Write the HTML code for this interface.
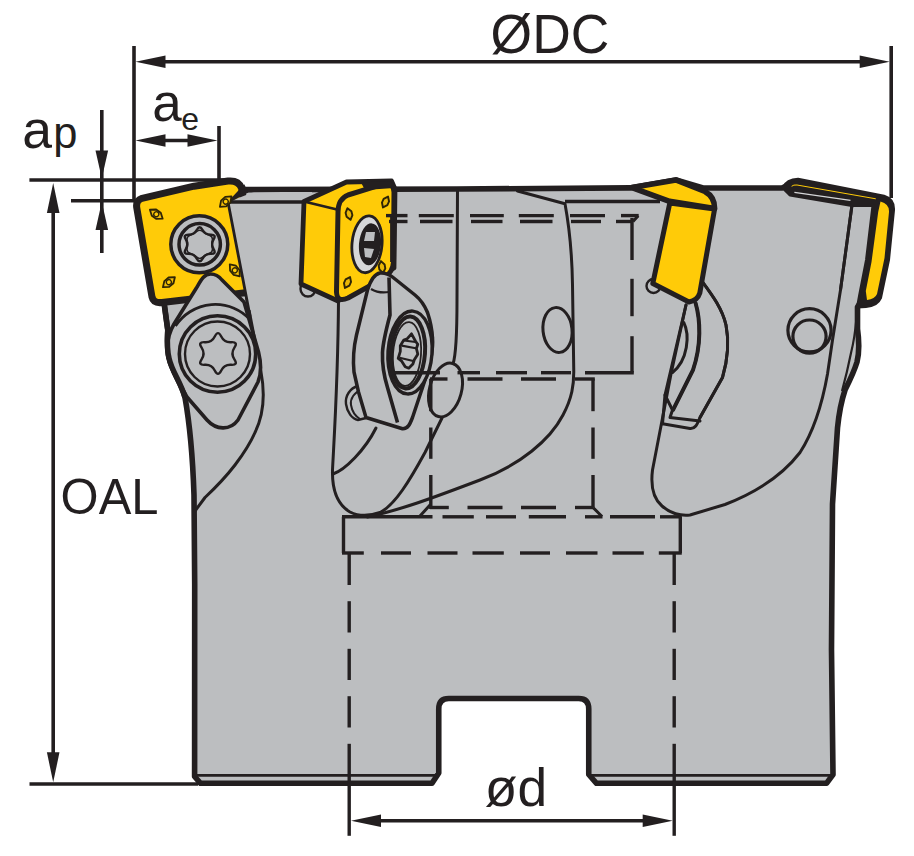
<!DOCTYPE html>
<html><head><meta charset="utf-8"><title>Milling cutter dimensions</title>
<style>html,body{margin:0;padding:0;background:#fff}svg{display:block}</style></head>
<body><svg width="914" height="856" viewBox="0 0 914 856">
<rect width="914" height="856" fill="#fff"/>
<path d="M 150,200 L 246,189.6 L 457,189 L 630,187.9 L 676,180 L 703,188 L 782,188 L 795,182 L 880,199 L 872,262 L 862,300 L 857.5,307 L 857.5,329 C 859,340 859.5,352 857,362 C 854,372 848,384 845,390 C 840,405 838.5,418 837.5,428 L 832.5,504 L 831.5,650 L 833,774.5 L 826.5,783.3 L 596.5,783.3 L 588.75,774.5 L 588.75,709 Q 588.75,698.5 578.75,698.5 L 448.75,698.5 Q 438.75,698.5 438.75,709 L 438.75,773 L 432,783.3 L 200.5,783.3 L 194.6,776.5 L 194.7,584 L 194,495 C 192.5,450 189,420 185,397.5 C 181,382 172,372 169,358 C 166.5,348 167.5,338 167.75,330 L 164,302.5 Z" fill="#bcbec0" stroke="#231f20" stroke-width="5.6" stroke-linejoin="round"/>
<path d="M195,775.4 L438,775.4 M589,775.4 L833,775.4" stroke="#231f20" stroke-width="2.6" fill="none"/>
<path d="M856.5,318 C855,335 853,345 851,353 C848,368 845,380 842,391" stroke="#231f20" stroke-width="2.2" fill="none"/>
<path d="M 228,202 L 261,372 C 266,398 262,418 255,432.5 C 249,446 241,457 235,465 C 225,478 213,490 205,497.5 L 195,511" fill="none" stroke="#231f20" stroke-width="3" stroke-linecap="round" stroke-linejoin="round"/>
<path d="M 457.5,190 L 457,300 C 457,340 456,355 453,364" fill="none" stroke="#231f20" stroke-width="3" stroke-linecap="round" stroke-linejoin="round"/>
<path d="M 338.5,300 C 338,380 334,440 332.5,470 C 332,490 338,505 350,512 C 360,517 370,516 380,512.5 C 395,505 410,480 425,452.5 L 442,418" fill="none" stroke="#231f20" stroke-width="3" stroke-linecap="round" stroke-linejoin="round"/>
<path d="M 333,474 C 345,470 365,450 376,428" fill="none" stroke="#231f20" stroke-width="3" stroke-linecap="round" stroke-linejoin="round"/>
<path d="M 367.5,517 C 400,510 430,499 480,480 C 520,465 550,440 563,415 C 572,398 574,385 573.75,370 L 572.5,285 C 572,250 568,220 565,203.75 L 517.5,191" fill="none" stroke="#231f20" stroke-width="3" stroke-linecap="round" stroke-linejoin="round"/>
<path d="M 420,516 L 430,505" fill="none" stroke="#231f20" stroke-width="3" stroke-linecap="round" stroke-linejoin="round"/>
<path d="M 686,305 L 671,374 L 652.5,470 C 650,490 655,500 662,506 C 670,513 680,516 690,515 L 725,504.5 C 760,491 785,472 800,452.5 C 812,434 822,405 827.5,374 L 832.5,340 L 840.5,290 L 852,205" fill="none" stroke="#231f20" stroke-width="3" stroke-linecap="round" stroke-linejoin="round"/>
<path d="M 701,280 C 712,295 722,308 726,325 C 730,345 727,362 722.5,377.5 L 700,417.5 C 697,425 695,429 690,428.5 L 662.5,423.75" fill="none" stroke="#231f20" stroke-width="3" stroke-linecap="round" stroke-linejoin="round"/>
<path d="M 701,280 C 712,295 722,308 726,325 C 730,345 727,362 722.5,377.5 L 700,417.5" fill="none" stroke="#231f20" stroke-width="3" stroke-linecap="round" stroke-linejoin="round"/>
<path d="M 695,302.5 C 700,320 701,345 692.5,370 L 672.5,410 L 670,417.5 L 700,421" fill="none" stroke="#231f20" stroke-width="3" stroke-linecap="round" stroke-linejoin="round"/>
<path d="M 695.5,302.5 C 700.5,320 701.5,345 693,370 L 673,410" fill="none" stroke="#231f20" stroke-width="3" stroke-linecap="round" stroke-linejoin="round"/>
<path d="M 696,303 C 701,320 702,345 693.5,370 L 673.5,410" fill="none" stroke="#231f20" stroke-width="3" stroke-linecap="round" stroke-linejoin="round"/>
<path d="M 686,305 L 665,395 L 662.5,423.75" fill="none" stroke="#231f20" stroke-width="3" stroke-linecap="round" stroke-linejoin="round"/>
<path d="M 683.75,322.5 C 690,335 688,360 672.5,372.5" fill="none" stroke="#231f20" stroke-width="3" stroke-linecap="round" stroke-linejoin="round"/>
<path d="M 665,395 L 672.5,410" fill="none" stroke="#231f20" stroke-width="3" stroke-linecap="round" stroke-linejoin="round"/>
<path d="M 228,202 L 304,202 M 565,201.5 L 660,201.5" stroke="#231f20" stroke-width="3.6" fill="none"/>
<ellipse cx="445.5" cy="390" rx="16" ry="27.5" transform="rotate(15 445.5 390)" fill="#bcbec0" stroke="#231f20" stroke-width="3"/>
<ellipse cx="557.5" cy="330" rx="14.5" ry="22.5" transform="rotate(-6 557.5 330)" fill="none" stroke="#231f20" stroke-width="3"/>
<circle cx="809.5" cy="330.3" r="21.6" fill="none" stroke="#231f20" stroke-width="3.2"/>
<circle cx="809.5" cy="336.6" r="16.6" fill="none" stroke="#231f20" stroke-width="3.2"/>
<path d="M 142,198.3 L 194,186.2 L 228,181 Q 238.5,180 241.5,188 L 260,291 L 162,302.5 Q 153.5,303.5 152,297 L 136.8,208 Q 135.5,200.5 142,198.3 Z" fill="#ffcb08" stroke="#231f20" stroke-width="7" stroke-linejoin="round"/>
<path d="M 228,202 L 254,192 L 312,192 L 312,310 L 249,310 Z" fill="#bcbec0"/>
<path d="M 246,190 L 312,189.5" stroke="#231f20" stroke-width="4.6"/>
<path d="M 244,186 L 247,192 L 230,201 Z" fill="#231f20" stroke="#231f20" stroke-width="2"/>
<path d="M 228,202 L 304,202" stroke="#231f20" stroke-width="3.6"/>
<path d="M 228,202 L 250,316" stroke="#231f20" stroke-width="2.8" stroke-linecap="round"/>
<g transform="translate(156.3 214.2) rotate(35)"><path d="M -7.8,0 L -2.8,-3.8 L 2.8,-3.8 L 7.8,0 L 2.8,3.8 L -2.8,3.8 Z" fill="#f2bd07" stroke="#2e2506" stroke-width="1.8" stroke-linejoin="round"/><circle r="2.5" fill="#ffcb08" stroke="#2e2506" stroke-width="1.3"/></g>
<g transform="translate(225.7 201.6) rotate(-42)"><path d="M -7.8,0 L -2.8,-3.8 L 2.8,-3.8 L 7.8,0 L 2.8,3.8 L -2.8,3.8 Z" fill="#f2bd07" stroke="#2e2506" stroke-width="1.8" stroke-linejoin="round"/><circle r="2.5" fill="#ffcb08" stroke="#2e2506" stroke-width="1.3"/></g>
<g transform="translate(168.9 282.2) rotate(-40)"><path d="M -7.8,0 L -2.8,-3.8 L 2.8,-3.8 L 7.8,0 L 2.8,3.8 L -2.8,3.8 Z" fill="#f2bd07" stroke="#2e2506" stroke-width="1.8" stroke-linejoin="round"/><circle r="2.5" fill="#ffcb08" stroke="#2e2506" stroke-width="1.3"/></g>
<g transform="translate(234.8 270.3) rotate(50)"><path d="M -7.8,0 L -2.8,-3.8 L 2.8,-3.8 L 7.8,0 L 2.8,3.8 L -2.8,3.8 Z" fill="#f2bd07" stroke="#2e2506" stroke-width="1.8" stroke-linejoin="round"/><circle r="2.5" fill="#ffcb08" stroke="#2e2506" stroke-width="1.3"/></g>
<circle cx="199.3" cy="244.3" r="28.5" fill="#bcbec0" stroke="#231f20" stroke-width="3.5"/>
<circle cx="199.7" cy="244.3" r="20.7" fill="#bcbec0" stroke="#231f20" stroke-width="3.5"/>
<path d="M 196.9,229.8 Q 199.7,224.8 202.4,229.8 Q 205.2,234.8 210.9,234.7 Q 216.6,234.6 213.6,239.4 Q 210.7,244.3 213.6,249.2 Q 216.6,254.1 210.9,253.9 Q 205.2,253.8 202.4,258.8 Q 199.7,263.8 196.9,258.8 Q 194.2,253.8 188.5,253.9 Q 182.8,254.1 185.8,249.2 Q 188.7,244.3 185.8,239.4 Q 182.8,234.6 188.5,234.7 Q 194.2,234.8 196.9,229.8 Z" fill="#bcbec0" stroke="#231f20" stroke-width="2.4"/>
<path d="M 196.8,231.6 Q 199.7,228.8 202.6,231.6 Q 205.4,234.3 209.3,235.4 Q 213.1,236.6 212.2,240.4 Q 211.2,244.3 212.2,248.2 Q 213.1,252.1 209.3,253.2 Q 205.4,254.3 202.6,257.0 Q 199.7,259.8 196.8,257.0 Q 193.9,254.3 190.1,253.2 Q 186.3,252.1 187.2,248.2 Q 188.2,244.3 187.2,240.4 Q 186.3,236.6 190.1,235.4 Q 193.9,234.3 196.8,231.6 Z" fill="none" stroke="#231f20" stroke-width="1.4"/>
<path d="M 210.5,274 C 204,274 201,280 197,287 L 174,324 C 167,336 166,348 169,360 C 172,372 180,384 187,397 L 207,420 C 216,430 230,431 238,420 L 258,382 C 262,372 261,362 258.5,352 L 244,302 L 222,280 C 218,275 214.5,274 210.5,274 Z" fill="#bcbec0" stroke="#231f20" stroke-width="3.6" stroke-linejoin="round"/>
<path d="M 175.5,326 A 47.5 47.5 0 0 1 250.5,320" fill="none" stroke="#231f20" stroke-width="2.8"/>
<path d="M 164,302.5 L 167.75,330 C 167.5,338 166.5,348 169,358 C 172,372 181,382 185,397.5" fill="none" stroke="#231f20" stroke-width="5.4"/>
<circle cx="217.5" cy="354" r="38.2" fill="#bcbec0" stroke="#231f20" stroke-width="3.6"/>
<circle cx="217.5" cy="354" r="32.5" fill="none" stroke="#231f20" stroke-width="2.4"/>
<path d="M 214.9,336.3 Q 218.0,330.0 221.1,336.3 Q 224.2,342.7 231.3,342.2 Q 238.4,341.8 234.4,347.6 Q 230.5,353.5 234.4,359.4 Q 238.4,365.2 231.3,364.8 Q 224.2,364.3 221.1,370.7 Q 218.0,377.0 214.9,370.7 Q 211.8,364.3 204.7,364.8 Q 197.6,365.2 201.6,359.4 Q 205.5,353.5 201.6,347.6 Q 197.6,341.8 204.7,342.2 Q 211.8,342.7 214.9,336.3 Z" fill="#bcbec0" stroke="#231f20" stroke-width="2.4"/>
<circle cx="308" cy="289" r="7.5" fill="#bcbec0" stroke="#231f20" stroke-width="2.4"/>
<path d="M 304,201.5 L 346.5,182 L 391.5,181 L 395,189 L 394,268 L 338,301 L 301,284 Z" fill="#ffcb08" stroke="#231f20" stroke-width="4.8" stroke-linejoin="round"/>
<path d="M 306,202 L 337,209.5" stroke="#231f20" stroke-width="2.8"/>
<path d="M 338,212 Q 338,199 348,195 L 384,183.8 Q 393.5,182.3 394,192 L 393.5,262 Q 393,272 384,278 L 348,298 Q 337,303 336.5,292 Z" fill="#ffcb08" stroke="#231f20" stroke-width="5" stroke-linejoin="round"/>
<path d="M 361,182.5 L 391,181 L 394,188 L 365,190 Z" fill="#231f20"/>
<ellipse cx="367" cy="244.3" rx="15" ry="28.5" transform="rotate(5 367 244.3)" fill="#d6d7d8" stroke="#231f20" stroke-width="2.8"/>
<ellipse cx="370" cy="244.3" rx="11" ry="21" transform="rotate(5 370 244.3)" fill="#231f20"/>
<path d="M 366,232 L 375,232 L 374,241 L 364,241 Z M 364,248 L 374,249 L 371,258 L 365,257 Z" fill="#bcbec0"/>
<g transform="translate(349 214) rotate(75)"><path d="M -6,0 L -2,-3 L 2,-3 L 6,0 L 2,3 L -2,3 Z" fill="#e9b706" stroke="#2e2506" stroke-width="1.9" stroke-linejoin="round"/></g>
<g transform="translate(385.5 202) rotate(-65)"><path d="M -6,0 L -2,-3 L 2,-3 L 6,0 L 2,3 L -2,3 Z" fill="#e9b706" stroke="#2e2506" stroke-width="1.9" stroke-linejoin="round"/></g>
<g transform="translate(347.5 282.5) rotate(-65)"><path d="M -6,0 L -2,-3 L 2,-3 L 6,0 L 2,3 L -2,3 Z" fill="#e9b706" stroke="#2e2506" stroke-width="1.9" stroke-linejoin="round"/></g>
<g transform="translate(382 267) rotate(80)"><path d="M -6,0 L -2,-3 L 2,-3 L 6,0 L 2,3 L -2,3 Z" fill="#e9b706" stroke="#2e2506" stroke-width="1.9" stroke-linejoin="round"/></g>
<path d="M 358,386 C 350,388 345,396 346,404 C 347,412 352,419 358,420 L 366,418" fill="#bcbec0" stroke="#231f20" stroke-width="2.4"/>
<path d="M 362,390 C 354,392 350,399 351,405 C 352,411 355,416 360,419" fill="none" stroke="#231f20" stroke-width="2"/>
<path d="M 380,273 C 374,274 370,282 367.5,290 L 356.5,335 C 353,350 353,362 354,372 L 358.5,392 L 366,417.5 L 402.5,428.75 C 408,429 410,424 412.5,417.5 L 425,380 C 431,362 433.5,350 432.5,338 C 432,328 430,320 427.5,312.5 C 424,304 420,299 415,295 L 392.5,277 C 388,273.5 384,272.5 380,273 Z" fill="#bcbec0" stroke="#231f20" stroke-width="3.5" stroke-linejoin="round"/>
<path d="M 389,277.5 L 390,315 C 386,330 383,342 382.5,352.5 C 382,365 384,376 387.5,387.5 L 397.5,422.5" fill="none" stroke="#231f20" stroke-width="3.6"/>
<path d="M 371,289 C 376,292 383,293 389,292" fill="none" stroke="#231f20" stroke-width="2.2"/>
<ellipse cx="410" cy="352.5" rx="22" ry="41.5" transform="rotate(4 410 352.5)" fill="#bcbec0" stroke="#231f20" stroke-width="3.4"/>
<ellipse cx="408" cy="352.5" rx="17" ry="36" transform="rotate(4 408 352.5)" fill="#bcbec0" stroke="#231f20" stroke-width="4"/>
<ellipse cx="407" cy="354" rx="14" ry="32" transform="rotate(4 407 354)" fill="none" stroke="#231f20" stroke-width="1.8"/>
<path d="M 411.5,333.8 L 415.7,341.5 L 417.8,344.3 L 416.4,348.5 L 417.8,354.2 L 414.3,359.8 L 412.9,364 L 408.7,368.2 L 405.2,366.8 L 401.7,361.2 L 398.2,358.4 L 400.3,351.3 L 400.3,345.7 L 403.8,340.1 L 407.3,338.7 Z" fill="#bcbec0" stroke="#231f20" stroke-width="2.8" stroke-linejoin="round"/>
<path d="M 401.7,345.7 L 417.1,348.5 M 399.6,357.7 L 414.3,361.2 M 404,340.5 L 415.5,342" stroke="#231f20" stroke-width="2.2" fill="none"/>
<circle cx="653.5" cy="286" r="7" fill="#bcbec0" stroke="#231f20" stroke-width="2.4"/>
<path d="M 632,187.6 L 675.8,179.9 L 705,191.5 Q 714.8,197 714.6,208.5 L 669.5,201.3 Z" fill="#ffcb08" stroke="#231f20" stroke-width="5.6" stroke-linejoin="round"/>
<path d="M 669.8,203 L 714.6,209 L 699.8,293 Q 697.5,300.5 689,302 L 652.8,283.5 Z" fill="#ffcb08" stroke="#231f20" stroke-width="5" stroke-linejoin="round"/>
<path d="M 783,188 Q 787,179.5 798,179.3 L 884,196.3 Q 894,199.5 893.5,210 L 888.5,260 L 880.5,298 Q 877,306 866,306.5 L 857.5,307 L 859.5,296 L 866.5,260 L 873,205.5 L 852,205.5 L 790,195 Z" fill="#231f20" stroke="#231f20" stroke-width="3" stroke-linejoin="round"/>
<path d="M 880.5,201.5 Q 889.5,204 889,212 L 884.5,258 L 877,294 Q 875,299 867,300 L 865.8,291 L 871.5,262 L 878.2,212 Z" fill="#ffcb08"/>
<path d="M 791.6,186.3 Q 793.5,184.6 797,185 L 875.8,198.8" fill="none" stroke="#ffcb08" stroke-width="1"/>
<path d="M 794.4,192.4 L 850.5,200.4" fill="none" stroke="#d5d6d8" stroke-width="1.3"/>
<path d="M 852,205 L 840.5,290" fill="none" stroke="#231f20" stroke-width="3"/>
<g stroke="#231f20" stroke-width="3.4" fill="none"><line x1="386.0" y1="215.6" x2="407.5" y2="215.6"/><line x1="418.8" y1="215.6" x2="453.8" y2="215.6"/><line x1="470.0" y1="215.6" x2="503.8" y2="215.6"/><line x1="518.8" y1="215.6" x2="553.8" y2="215.6"/><line x1="570.0" y1="215.6" x2="605.0" y2="215.6"/><line x1="621.0" y1="215.6" x2="638.7" y2="215.6"/><line x1="389.0" y1="221.5" x2="407.5" y2="221.5"/><line x1="420.0" y1="221.5" x2="452.5" y2="221.5"/><line x1="471.0" y1="221.5" x2="502.5" y2="221.5"/><line x1="520.0" y1="221.5" x2="552.5" y2="221.5"/><line x1="571.0" y1="221.5" x2="601.0" y2="221.5"/><line x1="616.0" y1="221.5" x2="633.0" y2="221.5"/><line x1="391.8" y1="216.0" x2="391.8" y2="262.0"/><line x1="632.0" y1="218.0" x2="632.0" y2="260.0"/><line x1="632.0" y1="278.8" x2="632.0" y2="316.2"/><line x1="632.0" y1="336.2" x2="632.0" y2="372.5"/><line x1="391.0" y1="372.7" x2="440.0" y2="372.7"/><line x1="457.5" y1="372.7" x2="480.0" y2="372.7"/><line x1="496.0" y1="372.7" x2="527.0" y2="372.7"/><line x1="541.0" y1="372.7" x2="571.0" y2="372.7"/><line x1="585.0" y1="372.7" x2="633.8" y2="372.7"/><line x1="430.0" y1="379.0" x2="447.5" y2="379.0"/><line x1="467.5" y1="379.0" x2="502.5" y2="379.0"/><line x1="521.0" y1="379.0" x2="556.0" y2="379.0"/><line x1="575.0" y1="379.0" x2="594.8" y2="379.0"/><line x1="430.8" y1="378.8" x2="430.8" y2="411.2"/><line x1="430.8" y1="427.5" x2="430.8" y2="458.8"/><line x1="430.8" y1="475.0" x2="430.8" y2="509.0"/><line x1="593.0" y1="378.8" x2="593.0" y2="411.2"/><line x1="593.0" y1="427.5" x2="593.0" y2="458.8"/><line x1="593.0" y1="475.0" x2="593.0" y2="507.5"/><line x1="430.0" y1="507.5" x2="448.8" y2="507.5"/><line x1="467.5" y1="507.5" x2="502.5" y2="507.5"/><line x1="521.0" y1="507.5" x2="556.0" y2="507.5"/><line x1="575.0" y1="507.5" x2="593.0" y2="507.5"/><line x1="342.0" y1="516.8" x2="432.5" y2="516.8"/><line x1="442.5" y1="516.8" x2="473.8" y2="516.8"/><line x1="486.0" y1="516.8" x2="516.0" y2="516.8"/><line x1="528.8" y1="516.8" x2="566.0" y2="516.8"/><line x1="585.0" y1="516.8" x2="602.5" y2="516.8"/><line x1="610.0" y1="516.8" x2="655.0" y2="516.8"/><line x1="660.0" y1="516.8" x2="681.8" y2="516.8"/><line x1="342.0" y1="553.0" x2="363.8" y2="553.0"/><line x1="381.0" y1="553.0" x2="411.0" y2="553.0"/><line x1="427.5" y1="553.0" x2="457.5" y2="553.0"/><line x1="472.5" y1="553.0" x2="503.8" y2="553.0"/><line x1="520.0" y1="553.0" x2="550.0" y2="553.0"/><line x1="566.0" y1="553.0" x2="597.5" y2="553.0"/><line x1="612.5" y1="553.0" x2="643.8" y2="553.0"/><line x1="658.8" y1="553.0" x2="681.8" y2="553.0"/><line x1="343.5" y1="516.8" x2="343.5" y2="553.0"/><line x1="680.3" y1="516.8" x2="680.3" y2="553.0"/><line x1="349.2" y1="553.8" x2="349.2" y2="585.0"/><line x1="349.2" y1="601.2" x2="349.2" y2="632.5"/><line x1="349.2" y1="648.8" x2="349.2" y2="680.0"/><line x1="349.2" y1="696.2" x2="349.2" y2="727.5"/><line x1="349.2" y1="743.8" x2="349.2" y2="835.8"/><line x1="674.2" y1="553.8" x2="674.2" y2="585.0"/><line x1="674.2" y1="601.2" x2="674.2" y2="632.5"/><line x1="674.2" y1="648.8" x2="674.2" y2="680.0"/><line x1="674.2" y1="696.2" x2="674.2" y2="727.5"/><line x1="674.2" y1="743.8" x2="674.2" y2="835.8"/></g>
<path d="M 593,507.5 L 602,516.5 M 638.2,215.8 L 633,221.5" stroke="#231f20" stroke-width="3"/>
<g stroke="#231f20" stroke-width="3.6" fill="none"><line x1="134" y1="46" x2="134" y2="200"/><line x1="891.2" y1="46" x2="891.2" y2="198"/><line x1="150" y1="61.8" x2="875" y2="61.8"/><line x1="219" y1="126" x2="219" y2="180"/><line x1="150" y1="140.5" x2="205" y2="140.5"/><line x1="101.8" y1="110" x2="101.8" y2="253"/><line x1="29.4" y1="180" x2="225" y2="180"/><line x1="71" y1="200.7" x2="138" y2="200.7"/><line x1="53.2" y1="200" x2="53.2" y2="770"/><line x1="29.5" y1="784" x2="198" y2="784"/><line x1="370" y1="820.8" x2="655" y2="820.8"/></g>
<polygon points="135.5,61.8 165.5,55.5 165.5,68.1" fill="#231f20"/>
<polygon points="889.7,61.8 859.7,68.1 859.7,55.5" fill="#231f20"/>
<polygon points="135.5,140.5 165.5,134.2 165.5,146.8" fill="#231f20"/>
<polygon points="217.5,140.5 187.5,146.8 187.5,134.2" fill="#231f20"/>
<polygon points="101.8,178.6 95.5,150.6 108.1,150.6" fill="#231f20"/>
<polygon points="101.8,202.0 108.1,230.0 95.5,230.0" fill="#231f20"/>
<polygon points="53.2,183.0 59.5,213.0 46.9,213.0" fill="#231f20"/>
<polygon points="53.2,782.3 46.9,752.3 59.5,752.3" fill="#231f20"/>
<polygon points="351.0,820.8 381.0,814.5 381.0,827.1" fill="#231f20"/>
<polygon points="672.7,820.8 642.7,827.1 642.7,814.5" fill="#231f20"/>
<g font-family="'Liberation Sans', Arial, sans-serif" fill="#231f20">
<text transform="translate(490.6 53) scale(1 1.04)" font-size="53.4">ØDC</text>
<text transform="translate(60.6 513.8) scale(1 1.035)" font-size="48.9">OAL</text>
<text x="484.8" y="805.8" font-size="53.4">ød</text>
<text x="22.3" y="148" font-size="53.5">a</text><text x="53.3" y="148" font-size="43.5">p</text>
<text x="152.2" y="121" font-size="53">a</text><text x="181.3" y="130.3" font-size="32">e</text>
</g>
</svg></body></html>
